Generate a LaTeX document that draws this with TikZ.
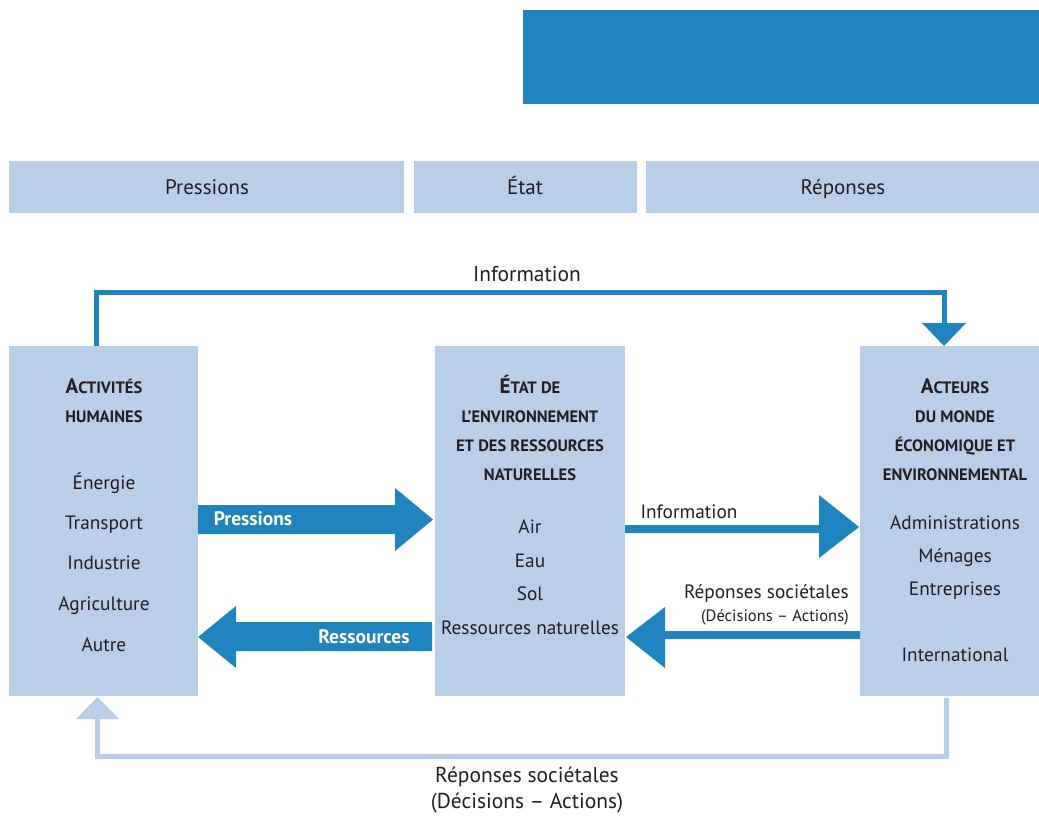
\documentclass[tikz,border=0pt]{standalone}
\usepackage{fontspec}
\setmainfont{PT Sans}
\usetikzlibrary{calc}
\definecolor{dblue}{HTML}{1F84BD}
\definecolor{lblue}{HTML}{B8CFE7}
\definecolor{txt}{HTML}{231F20}
\newcommand{\bigsc}[1]{{\fontsize{21}{21}\selectfont #1}}
\newcommand{\smsc}[1]{{\fontsize{16.5}{16.5}\selectfont #1}}
\begin{document}
\begin{tikzpicture}[x=1pt,y=-1pt,
  panel/.style={fill=lblue, inner sep=0, outer sep=0},
  lbl/.style={text=txt, font=\fontsize{19.3}{19.3}\selectfont, inner sep=0, anchor=base},
  big/.style={text=txt, font=\fontsize{21.5}{21.5}\selectfont, inner sep=0, anchor=base},
  hdrtxt/.style={text=txt, font=\fontsize{21}{21}\selectfont, inner sep=0, anchor=base},
  ttl/.style={text=txt, font=\bfseries, inner sep=0, anchor=base},
  wlbl/.style={text=white, font=\fontsize{19.5}{19.5}\selectfont\bfseries, inner sep=0, anchor=base},
  small/.style={text=txt, font=\fontsize{16.5}{16.5}\selectfont, inner sep=0, anchor=base east},
  fat/.style={fill=dblue, draw=none},
  thin/.style={draw=dblue, line width=5pt},
  pale/.style={draw=lblue, line width=5pt}]
\useasboundingbox (0,0) rectangle (1039,815);

% top banner
\node[fill=dblue, inner sep=0, minimum width=516pt, minimum height=94pt] (banner) at (781,57) {};

% headers
\node[panel, minimum width=395pt, minimum height=52pt] (hp) at (206.5,187) {};
\node[panel, minimum width=223pt, minimum height=52pt] (he) at (525.5,187) {};
\node[panel, minimum width=393pt, minimum height=52pt] (hr) at (842.5,187) {};
\node[hdrtxt] (hpt) at (207,194) {Pressions};
\node[hdrtxt] (het) at (525,194) {État};
\node[hdrtxt] (hrt) at (843,194) {Réponses};

% main boxes
\node[panel, minimum width=189pt, minimum height=350pt] (act) at (103.5,521) {};
\node[panel, minimum width=190pt, minimum height=350pt] (etat) at (530,521) {};
\node[panel, minimum width=179pt, minimum height=350pt] (acteurs) at (949.5,521) {};

% left box texts
\node[ttl] (a1) at (104,393) {\bigsc{A}\smsc{CTIVITÉS}};
\node[ttl] (a2) at (104,422) {\smsc{HUMAINES}};
\node[lbl] (a3) at (104,489.5) {Énergie};
\node[lbl] (a4) at (104,529.5) {Transport};
\node[lbl] (a5) at (104,569.5) {Industrie};
\node[lbl] (a6) at (104,610.5) {Agriculture};
\node[lbl] (a7) at (104,651.5) {Autre};

% middle box texts
\node[ttl] (e1) at (530,393) {\bigsc{É}\smsc{TAT DE}};
\node[ttl] (e2) at (530,422) {\smsc{L'ENVIRONNEMENT}};
\node[ttl] (e3) at (530,451) {\smsc{ET DES RESSOURCES}};
\node[ttl] (e4) at (530,480) {\smsc{NATURELLES}};
\node[lbl] (e5) at (530,533.5) {Air};
\node[lbl] (e6) at (530,567.5) {Eau};
\node[lbl] (e7) at (530,600.5) {Sol};
\node[lbl] (e8) at (530,634.5) {Ressources naturelles};

% right box texts
\node[ttl] (r1) at (955,393) {\bigsc{A}\smsc{CTEURS}};
\node[ttl] (r2) at (955,422) {\smsc{DU MONDE}};
\node[ttl] (r3) at (955,451) {\smsc{ÉCONOMIQUE ET}};
\node[ttl] (r4) at (955,480) {\smsc{ENVIRONNEMENTAL}};
\node[lbl] (r5) at (955,529.5) {Administrations};
\node[lbl] (r6) at (955,562.5) {Ménages};
\node[lbl] (r7) at (955,595.5) {Entreprises};
\node[lbl] (r8) at (955,661.5) {International};

% Pressions arrow
\fill[fat] (act.east |- 0,505) -- (395,505) -- (395,488) -- ([xshift=-2pt]etat.west |- 0,519.5)
  -- (395,551) -- (395,534) -- (act.east |- 0,534) -- cycle;
\node[wlbl] (lp) at (253,525) {Pressions};

% Ressources arrow
\fill[fat] ([xshift=-3pt]etat.west |- 0,622) -- (236,622) -- (236,606) -- (act.east |- 0,637)
  -- (236,668) -- (236,651) -- ([xshift=-3pt]etat.west |- 0,651) -- cycle;
\node[wlbl] (lr) at (364,643) {Ressources};

% Information arrow (middle)
\fill[fat] (etat.east |- 0,525) -- (819,525) -- (819,495) -- ([xshift=-1pt]acteurs.west |- 0,527)
  -- (819,558) -- (819,533) -- (etat.east |- 0,533) -- cycle;
\node[lbl] (li) at (689,518.5) {Information};

% Réponses sociétales arrow (middle)
\fill[fat] (acteurs.west |- 0,631) -- (665,631) -- (665,607) -- ([xshift=1pt]etat.east |- 0,637)
  -- (665,668) -- (665,639) -- (acteurs.west |- 0,639) -- cycle;
\node[lbl, anchor=base east] (lrs) at (849,598.5) {Réponses sociétales};
\node[small] (lrs2) at (849,621) {(Décisions – Actions)};

% top Information loop
\coordinate (ts) at (act.north -| 96,0);
\coordinate (te) at (acteurs.north -| 944,0);
\draw[thin, line join=miter] (ts) |- (944,292) -- ([yshift=-2pt]te |- 0,323);
\fill[fat] (922,323) -- (966,323) -- (te) -- cycle;
\node[big] (lti) at (527,281) {Information};

% bottom Réponses loop
\coordinate (bs) at ([yshift=-2pt]acteurs.south -| 946,0);
\coordinate (be) at (act.south -| 97.5,0);
\draw[pale, line join=miter] (bs) |- (97.5,756) -- (97.5,717);
\fill[lblue] (76,719) -- (119,719) -- ([yshift=-1pt]be) -- cycle;
\node[big] (lb1) at (527,782) {Réponses sociétales};
\node[big] (lb2) at (527,808.5) {(Décisions – Actions)};
\end{tikzpicture}
\end{document}
